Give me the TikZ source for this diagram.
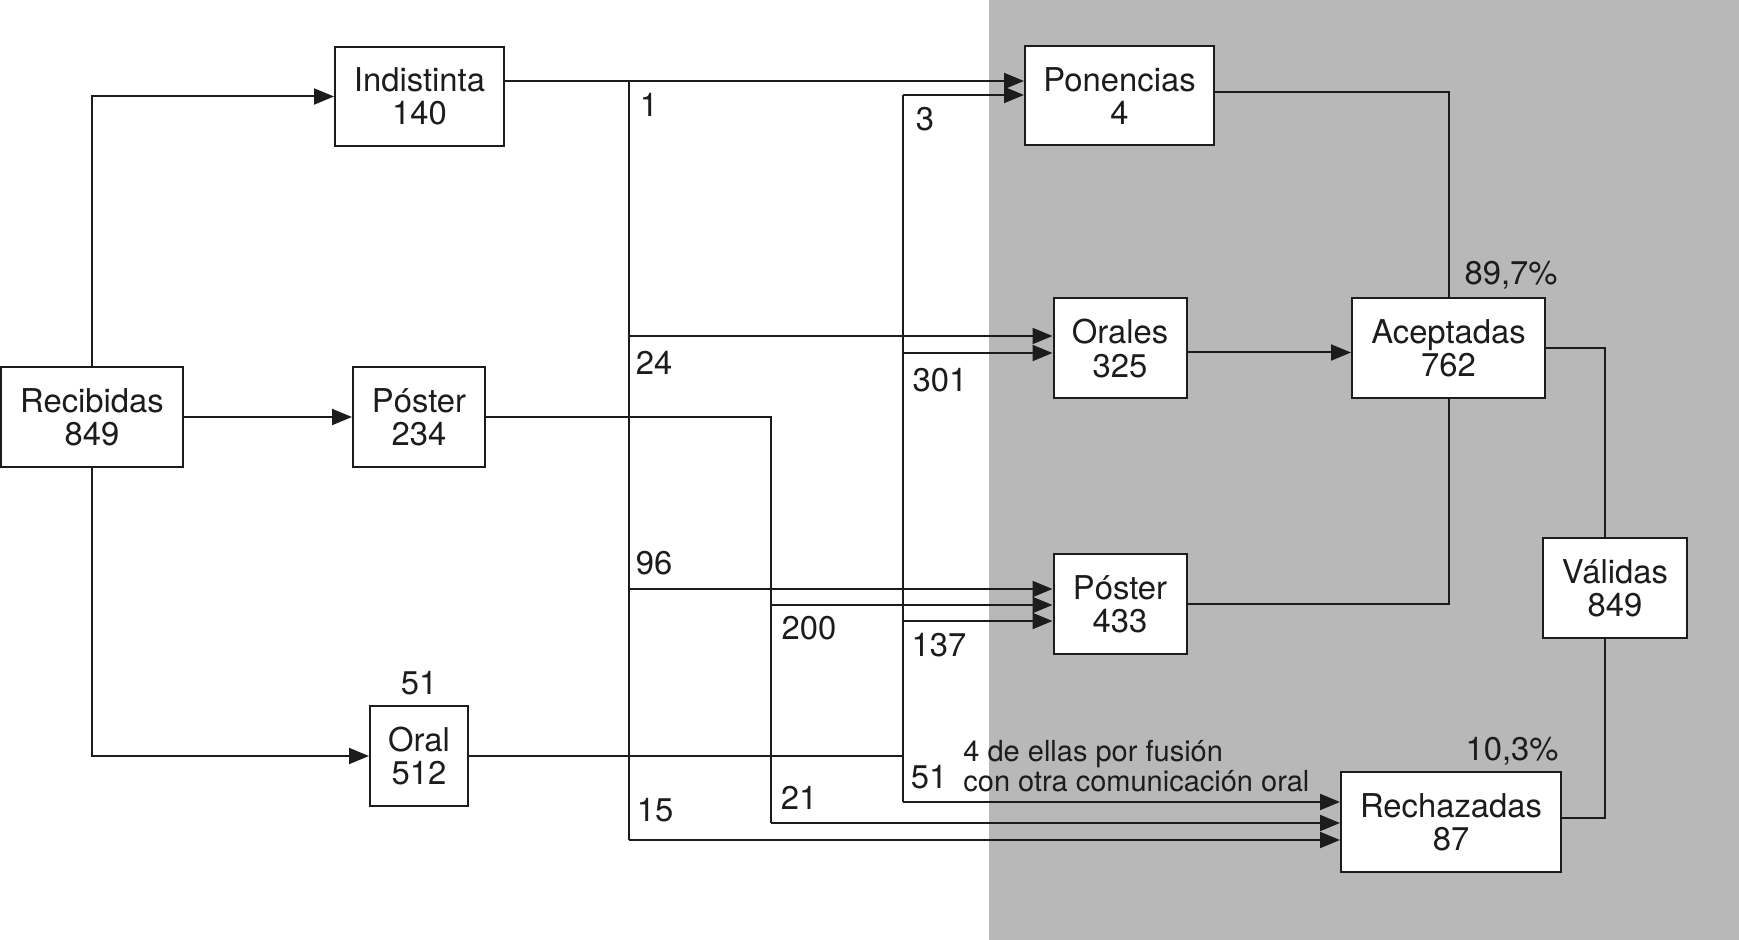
\documentclass[tikz,border=0pt]{standalone}
\usepackage{fontspec}
\setmainfont{TeX Gyre Heros}
\usetikzlibrary{arrows.meta}
\definecolor{panelgray}{RGB}{184,184,184}
\definecolor{ink}{RGB}{28,28,28}

\tikzset{
  box/.style={draw=ink,line width=1pt,fill=white,align=center,inner sep=0pt,
    text=ink,font=\fontsize{16.4}{16.6}\selectfont},
  link/.style={draw=ink,line width=1pt},
  flow/.style={link,-{Triangle[length=10pt,width=8pt]}},
  num/.style={inner sep=0pt,text=ink,font=\fontsize{16.4}{16.6}\selectfont},
  note/.style={inner sep=0pt,align=left,text=ink,font=\fontsize{14.5}{14.6}\selectfont},
}

\begin{document}
\begin{tikzpicture}[x=0.5pt,y=-0.5pt]
  \useasboundingbox (0,0) rectangle (1739,940);
  \fill[panelgray] (989,0) rectangle (1739,940);

  % left column
  \node[box,minimum width=91pt,minimum height=50pt] (rec) at (92,417) {Recibidas\\849};
  \node[box,minimum width=84.5pt,minimum height=49.5pt] (ind) at (419.5,96.5) {Indistinta\\140};
  \node[box,minimum width=66pt,minimum height=50pt] (posL) at (419,417) {Póster\\234};
  \node[box,minimum width=49pt,minimum height=50pt] (oral) at (419,756) {Oral\\512};
  \node[num] (oralTop) at (419,683) {51};

  % right column
  \node[box,minimum width=94.5pt,minimum height=49.5pt] (pon) at (1119.5,96) {Ponencias\\4};
  \node[box,minimum width=66.5pt,minimum height=50pt] (ora) at (1120,348.5) {Orales\\325};
  \node[box,minimum width=66.5pt,minimum height=50pt] (posR) at (1120,604) {Póster\\433};
  \node[box,minimum width=96.5pt,minimum height=50pt] (acep) at (1448.5,348.5) {Aceptadas\\762};
  \node[box,minimum width=72pt,minimum height=50pt] (val) at (1615,588) {Válidas\\849};
  \node[box,minimum width=110pt,minimum height=50pt] (rech) at (1451,822) {Rechazadas\\87};
  \node[num] (pctA) at (1511,275) {89,7\%};
  \node[num] (pctR) at (1512,751) {10,3\%};

  % bus junctions
  \coordinate (aTop) at (629,81);
  \coordinate (aOra) at (629,336);
  \coordinate (aPos) at (629,589);
  \coordinate (aRech) at (629,840);
  \coordinate (bPos) at (771,605);
  \coordinate (bRech) at (771,823);
  \coordinate (cTop) at (903,95);
  \coordinate (cOra) at (903,353);
  \coordinate (cPos) at (903,621);
  \coordinate (cRech) at (903,802);

  % first split
  \draw[flow] (rec.north) |- (ind.west);
  \draw[flow] (rec.east) -- (posL.west);
  \draw[flow] (rec.south) |- (oral.west);

  % Indistinta
  \draw[flow] (ind.east |- aTop) -- (pon.west |- aTop);
  \draw[link] (aTop) -- (aRech);
  \draw[flow] (aOra) -- (ora.west |- aOra);
  \draw[flow] (aPos) -- (posR.west |- aPos);
  \draw[flow] (aRech) -- (rech.west |- aRech);

  % Poster
  \draw[link] (posL.east) -| (bRech);
  \draw[flow] (bPos) -- (posR.west |- bPos);
  \draw[flow] (bRech) -- (rech.west |- bRech);

  % Oral
  \draw[link] (oral.east) -- (oral.east -| cTop);
  \draw[link] (cTop) -- (cRech);
  \draw[flow] (cTop) -- (pon.west |- cTop);
  \draw[flow] (cOra) -- (ora.west |- cOra);
  \draw[flow] (cPos) -- (posR.west |- cPos);
  \draw[flow] (cRech) -- (rech.west |- cRech);

  % totals
  \draw[link] ([yshift=2pt]pon.east) -| (acep.north);
  \draw[flow] ([yshift=-2pt]ora.east) -- ([yshift=-2pt]acep.west);
  \draw[link] (posR.east) -| (acep.south);
  \draw[link] (acep.east) -| ([xshift=-5pt]val.north);
  \draw[link] ([xshift=-5pt]val.south) |- ([yshift=2pt]rech.east);

  % flow counts
  \node[num] (nA1) at (649,105) {1};
  \node[num] (nA2) at (654,363) {24};
  \node[num] (nA3) at (654,563) {96};
  \node[num] (nA4) at (655,810) {15};
  \node[num] (nB1) at (809,628) {200};
  \node[num] (nB2) at (799,798) {21};
  \node[num] (nC1) at (925,119) {3};
  \node[num] (nC2) at (940,380) {301};
  \node[num] (nC3) at (939,645) {137};
  \node[num] (nC4) at (929,777) {51};
  \node[note,anchor=west] (fusion) at (963,766) {4 de ellas por fusión\\con otra comunicación oral};
\end{tikzpicture}
\end{document}
